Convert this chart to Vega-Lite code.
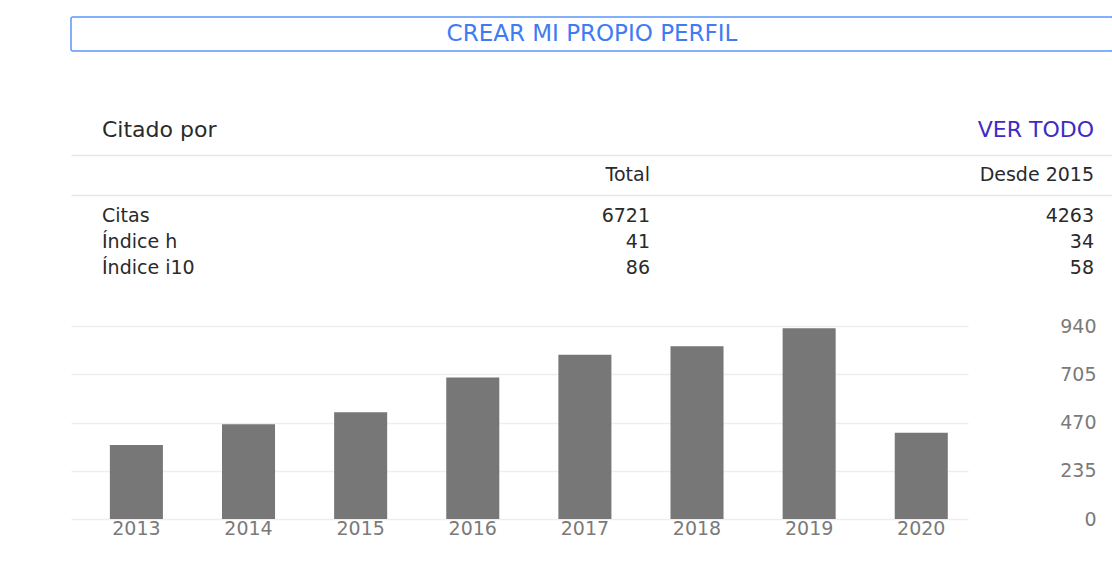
{
  "$schema": "https://vega.github.io/schema/vega-lite/v6.json",
  "background": "white",
  "padding": {"left": 70, "top": 16, "right": 0, "bottom": 0},
  "config": {
    "font": "DejaVu Sans",
    "view": {"stroke": null}
  },
  "bounds": "flush",
  "spacing": 54,
  "vconcat": [
    {
      "width": 1042,
      "height": 34,
      "view": {"stroke": "#5b97fc", "strokeWidth": 1.5, "cornerRadius": 2},
      "data": {"values": [{"label": "CREAR MI PROPIO PERFIL"}]},
      "mark": {"type": "text", "fontSize": 23, "color": "#3f7cf2"},
      "encoding": {"text": {"field": "label"}}
    },
    {
      "bounds": "flush",
      "spacing": 0,
      "vconcat": [
        {
          "width": 1042,
          "height": 50,
          "data": {"values": [
            {"col": "label", "text": "Citado por"},
            {"col": "Desde 2015", "text": "VER TODO"}
          ]},
          "layer": [
            {
              "transform": [{"filter": "datum.col === 'label'"}],
              "mark": {"type": "text", "align": "left", "fontSize": 22, "color": "#2a2a2a"},
              "encoding": {
                "x": {"field": "col", "type": "nominal", "bandPosition": 0,
                  "scale": {"type": "band", "domain": ["label", "Total", "Desde 2015"], "paddingInner": 0.7658, "paddingOuter": 0.0563, "align": 0.62},
                  "axis": {"orient": "bottom", "domain": true, "domainColor": "#e6e6e6", "domainWidth": 1.5, "labels": false, "ticks": false, "grid": false, "title": null}},
                "text": {"field": "text"}
              }
            },
            {
              "transform": [{"filter": "datum.col !== 'label'"}],
              "mark": {"type": "text", "align": "right", "fontSize": 22, "color": "#3d2cc4"},
              "encoding": {
                "x": {"field": "col", "type": "nominal", "bandPosition": 1,
                  "scale": {"type": "band", "domain": ["label", "Total", "Desde 2015"], "paddingInner": 0.7658, "paddingOuter": 0.0563, "align": 0.62},
                  "axis": {"orient": "bottom", "domain": true, "domainColor": "#e6e6e6", "domainWidth": 1.5, "labels": false, "ticks": false, "grid": false, "title": null}},
                "text": {"field": "text"}
              }
            }
          ]
        },
        {
          "width": 1042,
          "height": 40,
          "data": {"values": [
            {"col": "Total", "text": "Total"},
            {"col": "Desde 2015", "text": "Desde 2015"}
          ]},
          "mark": {"type": "text", "align": "right", "fontSize": 19, "color": "#2a2a2a"},
          "encoding": {
            "x": {"field": "col", "type": "nominal", "bandPosition": 1,
              "scale": {"type": "band", "domain": ["label", "Total", "Desde 2015"], "paddingInner": 0.7658, "paddingOuter": 0.0563, "align": 0.62},
              "axis": {"orient": "bottom", "domain": true, "domainColor": "#e6e6e6", "domainWidth": 1.5, "labels": false, "ticks": false, "grid": false, "title": null}},
            "text": {"field": "text"}
          }
        },
        {
          "width": 1042,
          "height": 131,
          "data": {"values": [
            {"metric": "Citas", "Total": 6721, "Desde 2015": 4263},
            {"metric": "Índice h", "Total": 41, "Desde 2015": 34},
            {"metric": "Índice i10", "Total": 86, "Desde 2015": 58}
          ]},
          "layer": [
            {
              "mark": {"type": "text", "align": "left", "fontSize": 19, "color": "#2a2a2a"},
              "encoding": {
                "x": {"datum": "label", "type": "nominal", "bandPosition": 0,
                  "scale": {"type": "band", "domain": ["label", "Total", "Desde 2015"], "paddingInner": 0.7658, "paddingOuter": 0.0563, "align": 0.62},
                  "axis": null},
                "y": {"field": "metric", "type": "nominal",
                  "scale": {"type": "band", "domain": ["Citas", "Índice h", "Índice i10"], "paddingInner": 0, "paddingOuter": 1.229, "align": 0.1525},
                  "axis": null},
                "text": {"field": "metric"}
              }
            },
            {
              "transform": [{"fold": ["Total", "Desde 2015"], "as": ["col", "value"]}],
              "mark": {"type": "text", "align": "right", "fontSize": 19, "color": "#2a2a2a"},
              "encoding": {
                "x": {"field": "col", "type": "nominal", "bandPosition": 1,
                  "scale": {"type": "band", "domain": ["label", "Total", "Desde 2015"], "paddingInner": 0.7658, "paddingOuter": 0.0563, "align": 0.62},
                  "axis": null},
                "y": {"field": "metric", "type": "nominal",
                  "scale": {"type": "band", "domain": ["Citas", "Índice h", "Índice i10"], "paddingInner": 0, "paddingOuter": 1.229, "align": 0.1525},
                  "axis": null},
                "text": {"field": "value", "type": "quantitative", "format": "d"}
              }
            }
          ]
        },
        {
          "width": 897,
          "height": 193,
          "data": {"values": [
            {"year": "2013", "citations": 361},
            {"year": "2014", "citations": 462},
            {"year": "2015", "citations": 520},
            {"year": "2016", "citations": 689},
            {"year": "2017", "citations": 800},
            {"year": "2018", "citations": 841},
            {"year": "2019", "citations": 929},
            {"year": "2020", "citations": 420}
          ]},
          "mark": {"type": "bar", "color": "#777777"},
          "encoding": {
            "x": {"field": "year", "type": "ordinal",
              "scale": {"type": "band", "paddingInner": 0.527, "paddingOuter": 0.2635, "align": 0.658},
              "axis": {"orient": "bottom", "domain": false, "ticks": false, "tickSize": 0, "labelPadding": 0, "labelAngle": 0, "labelFontSize": 19, "labelColor": "#7a7a7a", "grid": false, "title": null}},
            "y": {"field": "citations", "type": "quantitative",
              "scale": {"domain": [0, 940], "nice": false, "zero": true},
              "axis": {"orient": "right", "values": [0, 235, 470, 705, 940], "grid": true, "gridColor": "#eeeeee", "gridWidth": 1.5, "domain": false, "ticks": false, "tickSize": 0, "labelAlign": "right", "labelPadding": 128, "labelFontSize": 19, "labelColor": "#7a7a7a", "title": null}}
          }
        }
      ]
    }
  ]
}
